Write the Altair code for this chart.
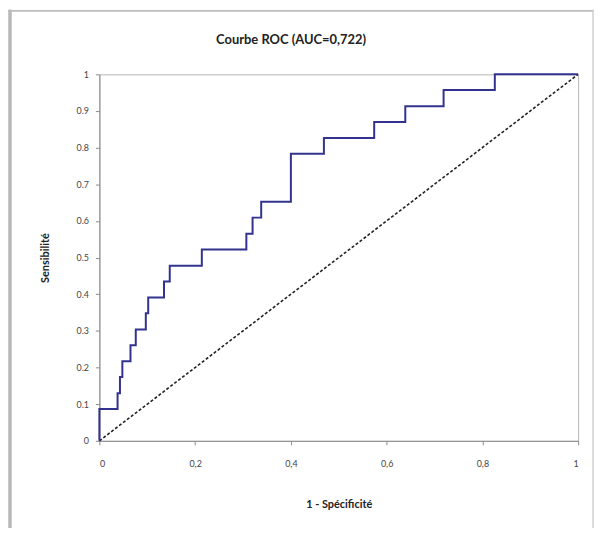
import altair as alt
import pandas as pd

# ROC step vertices (1 - specificity, sensitivity)
roc_fpr = [0.0, 0.0, 0.038, 0.043, 0.048, 0.065, 0.076, 0.097, 0.102, 0.135, 0.147,
           0.214, 0.307, 0.320, 0.338, 0.400, 0.469, 0.574, 0.639, 0.719, 0.826, 1.0]
roc_tpr = [0.0, 0.087, 0.130, 0.174, 0.217, 0.261, 0.304, 0.348, 0.391, 0.435, 0.478,
           0.522, 0.565, 0.609, 0.652, 0.783, 0.826, 0.870, 0.913, 0.957, 1.0, 1.0]
diag_x = [0.0, 1.0]
diag_y = [0.0, 1.0]
x_ticks = [0, 0.2, 0.4, 0.6, 0.8, 1]
y_ticks = [0, 0.1, 0.2, 0.3, 0.4, 0.5, 0.6, 0.7, 0.8, 0.9, 1]

W, H = 482, 369

roc = pd.DataFrame({"fpr": roc_fpr, "tpr": roc_tpr, "i": list(range(len(roc_fpr)))})
diag = pd.DataFrame({"fpr": diag_x, "tpr": diag_y})

xs = alt.Scale(domain=[0, 1], nice=False, zero=False)
ys = alt.Scale(domain=[0, 1], nice=False, zero=False)

x_axis = alt.Axis(values=x_ticks, title="1 - Spécificité", grid=False,
                  labelExpr="replace(format(datum.value, '.1~f'), '.', ',')",
                  tickSize=4, labelPadding=15, titlePadding=30)
y_axis = alt.Axis(values=y_ticks, title="Sensibilité", grid=False, format=".1~f",
                  tickSize=4, labelPadding=7, titlePadding=26, labelOverlap=False)

dline = alt.Chart(diag).mark_line(color="#222222", strokeWidth=1.6, strokeDash=[3, 2]).encode(
    x=alt.X("fpr:Q", scale=xs, axis=x_axis),
    y=alt.Y("tpr:Q", scale=ys, axis=y_axis),
)

line = alt.Chart(roc).mark_line(interpolate="step-after", color="#33338f", strokeWidth=2).encode(
    x=alt.X("fpr:Q", scale=xs, axis=x_axis),
    y=alt.Y("tpr:Q", scale=ys, axis=y_axis),
    order="i:Q",
)

frame_left = alt.Chart(diag).mark_rule(color="#b8b8b8", strokeWidth=3).encode(
    x=alt.value(-90), y=alt.value(-65), y2=alt.value(H + 90))
frame_top = alt.Chart(diag).mark_rule(color="#bdbdbd", strokeWidth=1.5).encode(
    x=alt.value(-92), x2=alt.value(W + 16), y=alt.value(-64))
frame_right = alt.Chart(diag).mark_rule(color="#d0d0d0", strokeWidth=1).encode(
    x=alt.value(W + 15), y=alt.value(-65), y2=alt.value(H + 90))

chart = alt.layer(dline, line, frame_left, frame_top, frame_right).properties(
    width=W, height=H,
    autosize=alt.AutoSizeParams(type="none"),
    padding={"left": 92, "top": 65, "right": 18, "bottom": 86},
    title=alt.TitleParams("Courbe ROC (AUC=0,722)", font="Lato", fontSize=13,
                          fontWeight="bold", color="#222222", offset=0, dy=39, dx=-48),
).configure_axis(
    labelFont="Lato", labelFontSize=9, labelColor="#444444",
    titleFont="Lato", titleFontSize=11, titleFontWeight="bold", titleColor="#222222",
    domainColor="#8a8a8a", tickColor="#8a8a8a",
).configure_view(stroke="#b5b5b5", strokeWidth=1)

chart.save("out.html", embed_options={"renderer": "svg", "actions": False})
